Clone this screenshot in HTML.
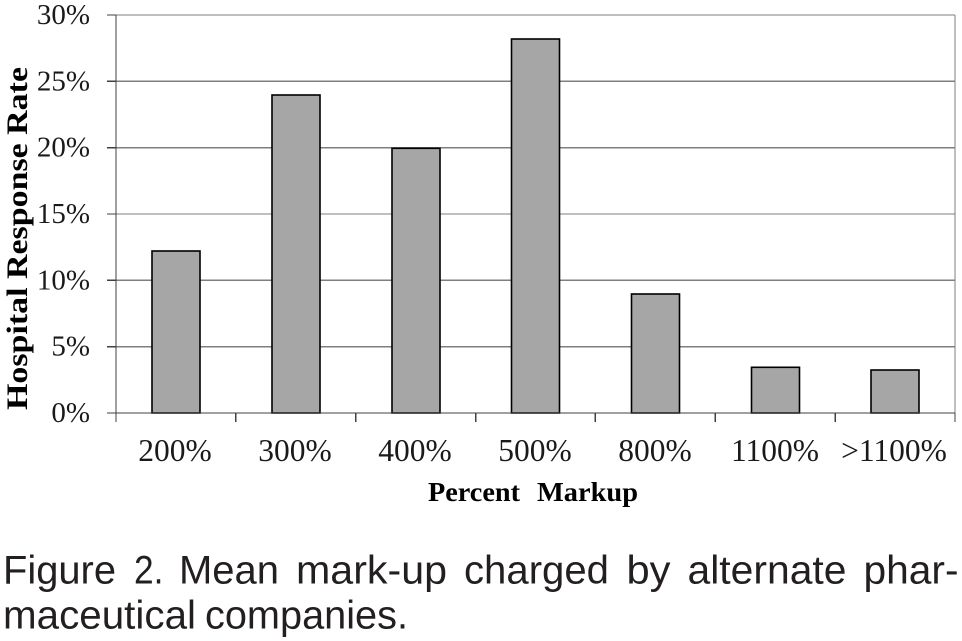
<!DOCTYPE html>
<html>
<head>
<meta charset="utf-8">
<style>
  html, body { margin: 0; padding: 0; background: #ffffff; }
  body { width: 962px; height: 641px; overflow: hidden; }
  svg { display: block; }
</style>
</head>
<body>
<svg width="962" height="641" viewBox="0 0 962 641" xmlns="http://www.w3.org/2000/svg">
  <rect x="0" y="0" width="962" height="641" fill="#ffffff"/>

  <!-- gridlines -->
  <g stroke="#7f7f7f" stroke-width="1.4" shape-rendering="crispEdges">
    <line x1="116" y1="15" x2="955" y2="15"/>
    <line x1="116" y1="81.3" x2="955" y2="81.3"/>
    <line x1="116" y1="147.7" x2="955" y2="147.7"/>
    <line x1="116" y1="214" x2="955" y2="214"/>
    <line x1="116" y1="280.3" x2="955" y2="280.3"/>
    <line x1="116" y1="346.7" x2="955" y2="346.7"/>
    <line x1="955" y1="15" x2="955" y2="413"/>
  </g>

  <!-- bars -->
  <g fill="#a6a6a6" stroke="#000000" stroke-width="1.6">
    <rect x="152" y="251" width="48" height="162"/>
    <rect x="272" y="95" width="48" height="318"/>
    <rect x="392" y="148.3" width="48" height="264.7"/>
    <rect x="511.5" y="39" width="48" height="374"/>
    <rect x="631.5" y="294" width="48" height="119"/>
    <rect x="751.5" y="367.3" width="48" height="45.7"/>
    <rect x="871" y="370" width="48" height="43"/>
  </g>

  <!-- axes -->
  <g stroke="#404040" stroke-width="1.4" shape-rendering="crispEdges">
    <line x1="116" y1="15" x2="116" y2="422"/>
    <line x1="107" y1="413" x2="955" y2="413"/>
    <line x1="107" y1="15" x2="116" y2="15"/>
    <line x1="107" y1="81.3" x2="116" y2="81.3"/>
    <line x1="107" y1="147.7" x2="116" y2="147.7"/>
    <line x1="107" y1="214" x2="116" y2="214"/>
    <line x1="107" y1="280.3" x2="116" y2="280.3"/>
    <line x1="107" y1="346.7" x2="116" y2="346.7"/>
    <line x1="235.9" y1="413" x2="235.9" y2="422"/>
    <line x1="355.7" y1="413" x2="355.7" y2="422"/>
    <line x1="475.6" y1="413" x2="475.6" y2="422"/>
    <line x1="595.4" y1="413" x2="595.4" y2="422"/>
    <line x1="715.3" y1="413" x2="715.3" y2="422"/>
    <line x1="835.1" y1="413" x2="835.1" y2="422"/>
    <line x1="955" y1="413" x2="955" y2="422"/>
  </g>

  <!-- y tick labels -->
  <g font-family="'Liberation Serif', serif" font-size="29" fill="#1a1a1a" text-anchor="end">
    <text x="90" y="24">30%</text>
    <text x="90" y="90.3">25%</text>
    <text x="90" y="156.7">20%</text>
    <text x="90" y="223">15%</text>
    <text x="90" y="289.3">10%</text>
    <text x="90" y="355.7">5%</text>
    <text x="90" y="422">0%</text>
  </g>

  <!-- x tick labels -->
  <g font-family="'Liberation Serif', serif" font-size="31.5" fill="#1a1a1a" text-anchor="middle">
    <text x="175" y="461">200%</text>
    <text x="295" y="461">300%</text>
    <text x="415" y="461">400%</text>
    <text x="535" y="461">500%</text>
    <text x="655" y="461">800%</text>
    <text x="775" y="461">1100%</text>
    <text x="894" y="461">&gt;1100%</text>
  </g>

  <!-- axis titles -->
  <g font-family="'Liberation Serif', serif" font-weight="bold" fill="#000000">
    <text x="428" y="501" font-size="27" textLength="92" lengthAdjust="spacingAndGlyphs">Percent</text>
    <text x="537" y="501" font-size="27" textLength="101" lengthAdjust="spacingAndGlyphs">Markup</text>
    <text transform="translate(27,238.5) rotate(-90)" text-anchor="middle" font-size="30" textLength="343" lengthAdjust="spacingAndGlyphs">Hospital Response Rate</text>
  </g>

  <!-- caption -->
  <g font-family="'Liberation Sans', sans-serif" font-size="39.5" fill="#231f20">
    <text x="3" y="583.5" textLength="113" lengthAdjust="spacingAndGlyphs">Figure</text>
    <text x="134" y="583.5" textLength="29.5" lengthAdjust="spacingAndGlyphs">2.</text>
    <text x="179" y="583.5" textLength="100" lengthAdjust="spacingAndGlyphs">Mean</text>
    <text x="296" y="583.5" textLength="151" lengthAdjust="spacingAndGlyphs">mark-up</text>
    <text x="464" y="583.5" textLength="145" lengthAdjust="spacingAndGlyphs">charged</text>
    <text x="626.5" y="583.5" textLength="44" lengthAdjust="spacingAndGlyphs">by</text>
    <text x="687.5" y="583.5" textLength="159" lengthAdjust="spacingAndGlyphs">alternate</text>
    <text x="863.5" y="583.5" textLength="95" lengthAdjust="spacingAndGlyphs">phar-</text>
    <text x="3" y="628.3" textLength="193" lengthAdjust="spacingAndGlyphs">maceutical</text>
    <text x="205" y="628.3" textLength="203" lengthAdjust="spacingAndGlyphs">companies.</text>
  </g>
</svg>
</body>
</html>
